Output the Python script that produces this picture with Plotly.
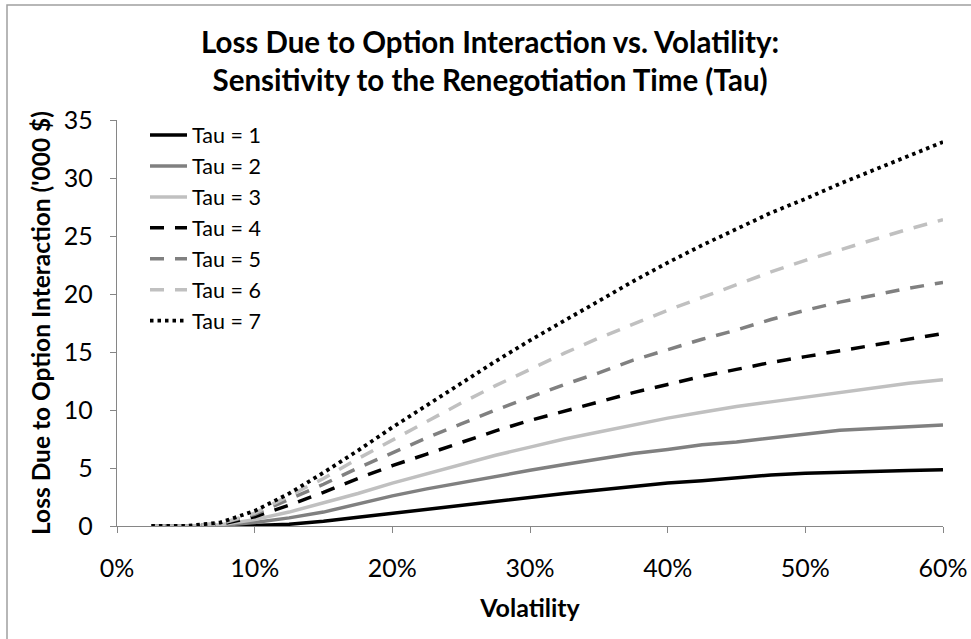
import plotly.graph_objects as go

volatility = [0.025, 0.05, 0.075, 0.10, 0.125, 0.15, 0.175, 0.20, 0.225, 0.25, 0.275, 0.30,
              0.325, 0.35, 0.375, 0.40, 0.425, 0.45, 0.475, 0.50, 0.525, 0.55, 0.575, 0.60]

tau1 = [0, 0, 0, 0.05, 0.15, 0.4, 0.75, 1.1, 1.4, 1.75, 2.15, 2.45,
        2.8, 3.1, 3.4, 3.7, 3.9, 4.15, 4.4, 4.55, 4.65, 4.72, 4.78, 4.85]
tau2 = [0, 0, 0.05, 0.3, 0.7, 1.2, 1.9, 2.6, 3.2, 3.75, 4.3, 4.8,
        5.3, 5.8, 6.25, 6.6, 7.0, 7.25, 7.6, 7.9, 8.25, 8.4, 8.55, 8.7]
tau3 = [0, 0, 0.1, 0.55, 1.2, 2.0, 2.8, 3.7, 4.5, 5.3, 6.1, 6.8,
        7.5, 8.1, 8.7, 9.3, 9.8, 10.3, 10.7, 11.1, 11.5, 11.9, 12.3, 12.6]
tau4 = [0, 0, 0.15, 0.8, 1.8, 2.9, 4.1, 5.2, 6.2, 7.2, 8.2, 9.1,
        9.9, 10.7, 11.5, 12.2, 12.9, 13.5, 14.1, 14.6, 15.1, 15.6, 16.1, 16.6]
tau5 = [0, 0, 0.2, 1.0, 2.3, 3.6, 5.0, 6.3, 7.6, 8.8, 10.0, 11.1,
        12.2, 13.2, 14.3, 15.2, 16.1, 16.9, 17.8, 18.6, 19.3, 19.9, 20.5, 21.0]
tau6 = [0, 0, 0.2, 1.1, 2.6, 4.1, 5.8, 7.4, 9.0, 10.6, 12.1, 13.5,
        14.9, 16.2, 17.4, 18.6, 19.7, 20.8, 21.9, 22.9, 23.8, 24.7, 25.6, 26.4]
tau7 = [0, 0, 0.3, 1.3, 2.8, 4.6, 6.5, 8.5, 10.4, 12.3, 14.2, 16.0,
        17.7, 19.4, 21.1, 22.7, 24.2, 25.6, 27.0, 28.2, 29.5, 30.7, 31.9, 33.1]

series_names = ["Tau = 1", "Tau = 2", "Tau = 3", "Tau = 4", "Tau = 5", "Tau = 6", "Tau = 7"]
series_values = [tau1, tau2, tau3, tau4, tau5, tau6, tau7]
x_tick_vals = [0, 0.1, 0.2, 0.3, 0.4, 0.5, 0.6]
x_tick_text = ["0%", "10%", "20%", "30%", "40%", "50%", "60%"]
y_tick_vals = [0, 5, 10, 15, 20, 25, 30, 35]

styles = [
    dict(color="#000000", width=3.5, dash="solid"),
    dict(color="#808080", width=3.5, dash="solid"),
    dict(color="#C0C0C0", width=3.5, dash="solid"),
    dict(color="#000000", width=3.5, dash="14px,11px"),
    dict(color="#808080", width=3.5, dash="14px,11px"),
    dict(color="#C0C0C0", width=3.5, dash="14px,11px"),
    dict(color="#000000", width=3.8, dash="3.5px,4px"),
]

FONT = "Lato, 'Open Sans', sans-serif"

fig = go.Figure()
for i, (name, vals) in enumerate(zip(series_names, series_values)):
    fig.add_trace(go.Scatter(x=volatility, y=vals, mode="lines", name=name, line=styles[i]))

W, H = 971, 639
L, R, T, B = 117, 28, 120, 113
pw = W - L - R
ph = H - T - B

fig.update_layout(
    width=W, height=H,
    margin=dict(l=L, r=R, t=T, b=B, autoexpand=False),
    paper_bgcolor="white", plot_bgcolor="white",
    font=dict(family=FONT, color="#000000"),
    title=dict(text="<b>Loss Due to Option Interaction vs. Volatility:<br>Sensitivity to the Renegotiation Time (Tau)</b>",
               x=(487 + 3) / W, xanchor="center", xref="container", y=1 - 53 / H, yanchor="middle",
               font=dict(size=29.5, family=FONT, color="#000000")),
    showlegend=True,
    legend=dict(x=(150 - 5 - L) / pw, y=1 + 5.5 / ph, xanchor="left", yanchor="top",
                font=dict(size=21.5, family=FONT, color="#000000"),
                bgcolor="rgba(255,255,255,0)", itemwidth=37,
                traceorder="normal"),
    xaxis=dict(range=[0, 0.6], tickvals=x_tick_vals, ticktext=x_tick_text, automargin=False,
               showgrid=False, zeroline=False, showline=True, linecolor="#868686", linewidth=1.3,
               ticks="outside", ticklen=6, tickcolor="#868686", tickwidth=1.3,
               tickfont=dict(size=25, family=FONT, color="#000000"), ticklabelstandoff=14,
               title=dict(text="<b>Volatility</b>", font=dict(size=25, family=FONT, color="#000000"), standoff=18)),
    yaxis=dict(range=[0, 35], tickvals=y_tick_vals, automargin=False,
               showgrid=False, zeroline=False, showline=True, linecolor="#868686", linewidth=1.3,
               ticks="outside", ticklen=6, tickcolor="#868686", tickwidth=1.3,
               tickfont=dict(size=25, family=FONT, color="#000000"), ticklabelstandoff=12,
               title=dict(text="<b>Loss Due to Option Interaction ('000 $)</b>",
                          font=dict(size=24.5, family=FONT, color="#000000"), standoff=6)),
)

fig.add_shape(type="rect", xref="paper", yref="paper",
              x0=(7 - L) / pw, x1=(W + 5 - L) / pw,
              y0=-(B + 5) / ph, y1=1 + (T - 5) / ph,
              line=dict(color="#A0A0A0", width=1.5), fillcolor="rgba(0,0,0,0)", layer="below")

fig.write_html("out.html", config={"displayModeBar": False},
               post_script="document.body.style.margin='0px';")
